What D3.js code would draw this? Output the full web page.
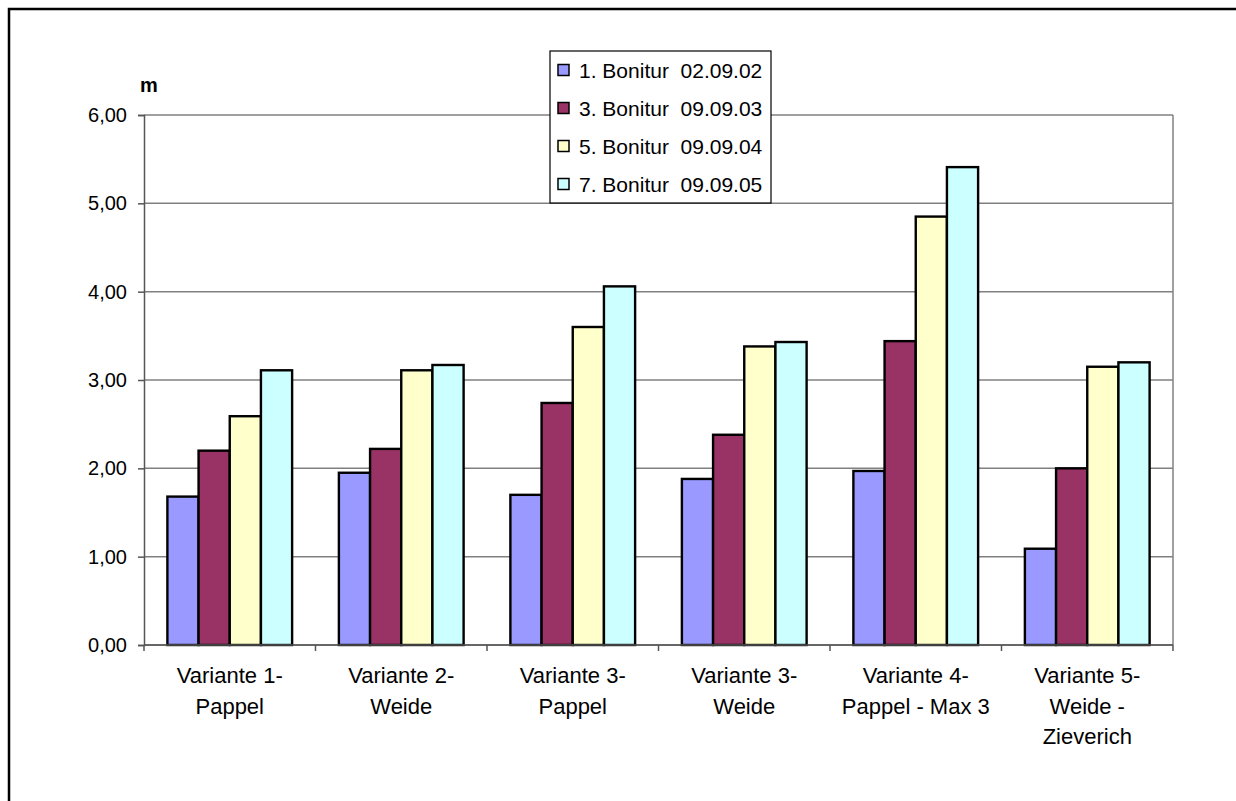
<!DOCTYPE html>
<html>
<head>
<meta charset="utf-8">
<script src="https://cdn.jsdelivr.net/npm/d3@7"></script>
<style>
  html, body { margin: 0; padding: 0; background: #fff; }
  svg { display: block; font-family: "Liberation Sans", Arial, sans-serif; }
</style>
</head>
<body>
<svg id="chart" width="1236" height="801"></svg>
<script>
// Categories (two/three-line labels) and the four survey series, in metres
const categories = [
  ["Variante 1-", "Pappel"],
  ["Variante 2-", "Weide"],
  ["Variante 3-", "Pappel"],
  ["Variante 3-", "Weide"],
  ["Variante 4-", "Pappel - Max 3"],
  ["Variante 5-", "Weide -", "Zieverich"]
];
const seriesNames = [
  "1. Bonitur\u00a0\u00a002.09.02",
  "3. Bonitur\u00a0\u00a009.09.03",
  "5. Bonitur\u00a0\u00a009.09.04",
  "7. Bonitur\u00a0\u00a009.09.05"
];
const bonitur1 = [1.68, 1.95, 1.70, 1.88, 1.97, 1.09];
const bonitur3 = [2.20, 2.22, 2.74, 2.38, 3.44, 2.00];
const bonitur5 = [2.59, 3.11, 3.60, 3.38, 4.85, 3.15];
const bonitur7 = [3.11, 3.17, 4.06, 3.43, 5.41, 3.20];
const yTicks = [0, 1, 2, 3, 4, 5, 6];
const colors = ["#9999FF", "#993366", "#FFFFCC", "#CCFFFF"];

const series = [bonitur1, bonitur3, bonitur5, bonitur7];

const svg = d3.select("#chart");

// Outer chart frame (right and bottom edges run past the page)
svg.append("rect")
  .attr("x", 9).attr("y", 9)
  .attr("width", 1400).attr("height", 1000)
  .attr("fill", "#fff")
  .attr("stroke", "#000").attr("stroke-width", 2.5);

const plot = { left: 144, right: 1173, top: 115, bottom: 645 };

const y = d3.scaleLinear().domain([0, 6]).range([plot.bottom, plot.top]);
const x0 = d3.scaleBand()
  .domain(d3.range(categories.length))
  .range([plot.left, plot.right])
  .padding(0);
const bw = x0.bandwidth();
const gap = bw * 1.5 / (series.length + 1.5);
const x1 = d3.scaleBand()
  .domain(d3.range(series.length))
  .range([gap / 2, bw - gap / 2])
  .padding(0);

// Gridlines
svg.append("g")
  .selectAll("line")
  .data(yTicks)
  .join("line")
  .attr("x1", plot.left).attr("x2", plot.right)
  .attr("y1", d => y(d)).attr("y2", d => y(d))
  .attr("stroke", "#808080").attr("stroke-width", 1.5);

// Plot area right edge
svg.append("line")
  .attr("x1", plot.right).attr("x2", plot.right)
  .attr("y1", plot.top).attr("y2", plot.bottom)
  .attr("stroke", "#808080").attr("stroke-width", 1.5);

// Y axis
const yAxis = d3.axisLeft(y)
  .tickValues(yTicks)
  .tickSize(6)
  .tickPadding(11)
  .tickFormat(d => d3.format(".2f")(d).replace(".", ","));
const gy = svg.append("g")
  .attr("transform", `translate(${plot.left},0)`)
  .call(yAxis);
gy.select(".domain").attr("stroke", "#555").attr("stroke-width", 1.5);
gy.selectAll(".tick line").attr("stroke", "#555").attr("stroke-width", 1.5);
gy.selectAll(".tick text")
  .attr("font-size", 20)
  .attr("font-family", "Liberation Sans, Arial, sans-serif")
  .attr("fill", "#000");

// Unit label
svg.append("text")
  .attr("x", 140).attr("y", 92)
  .attr("font-size", 20).attr("font-weight", "bold")
  .text("m");

// Bars
const groups = svg.append("g")
  .selectAll("g")
  .data(categories.map((c, i) => i))
  .join("g")
  .attr("transform", i => `translate(${x0(i)},0)`);

groups.selectAll("rect")
  .data(i => series.map((s, k) => ({ k, v: s[i] })))
  .join("rect")
  .attr("x", d => x1(d.k))
  .attr("width", x1.bandwidth())
  .attr("y", d => y(d.v))
  .attr("height", d => y(0) - y(d.v))
  .attr("fill", d => colors[d.k])
  .attr("stroke", "#000").attr("stroke-width", 2.4);

// X axis line and category boundary ticks
svg.append("line")
  .attr("x1", plot.left).attr("x2", plot.right)
  .attr("y1", plot.bottom).attr("y2", plot.bottom)
  .attr("stroke", "#555").attr("stroke-width", 1.5);
svg.append("g")
  .selectAll("line")
  .data(d3.range(categories.length + 1))
  .join("line")
  .attr("x1", i => plot.left + i * bw).attr("x2", i => plot.left + i * bw)
  .attr("y1", plot.bottom).attr("y2", plot.bottom + 6)
  .attr("stroke", "#555").attr("stroke-width", 1.5);

// Category labels
const xl = svg.append("g")
  .selectAll("text")
  .data(categories)
  .join("text")
  .attr("x", (d, i) => x0(i) + bw / 2)
  .attr("y", 683)
  .attr("text-anchor", "middle")
  .attr("font-size", 22);
xl.selectAll("tspan")
  .data(d => d)
  .join("tspan")
  .attr("x", function() { return d3.select(this.parentNode).attr("x"); })
  .attr("dy", (d, j) => j === 0 ? 0 : 30.5)
  .text(d => d);

// Legend
const legend = svg.append("g");
legend.append("rect")
  .attr("x", 550).attr("y", 51)
  .attr("width", 221).attr("height", 152)
  .attr("fill", "#fff")
  .attr("stroke", "#000").attr("stroke-width", 1.2);
const rows = legend.selectAll("g.row")
  .data(seriesNames)
  .join("g")
  .attr("class", "row")
  .attr("transform", (d, i) => `translate(0,${70 + i * 38})`);
rows.append("rect")
  .attr("x", 558).attr("y", -5.5)
  .attr("width", 11).attr("height", 11)
  .attr("fill", (d, i) => colors[i])
  .attr("stroke", "#000").attr("stroke-width", 1.5);
rows.append("text")
  .attr("x", 579).attr("y", 7.5)
  .attr("font-size", 21)
  .text(d => d);
</script>
</body>
</html>
